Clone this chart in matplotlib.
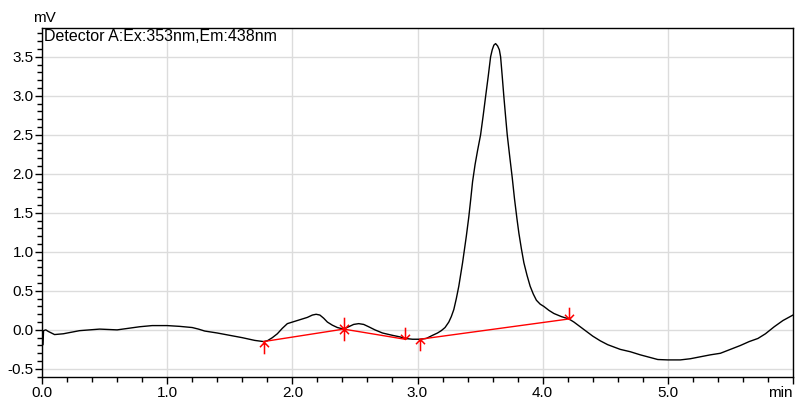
import matplotlib
matplotlib.use("Agg")
import matplotlib.pyplot as plt
from matplotlib.path import Path
from matplotlib.ticker import MultipleLocator

plt.rcParams["font.family"] = ["Liberation Sans", "DejaVu Sans"]

# chromatogram trace (min, mV)
t = [0.000, 0.008, 0.012, 0.03, 0.05, 0.10, 0.17, 0.30, 0.46, 0.60, 0.78, 0.88,
     1.00, 1.10, 1.20, 1.25, 1.30, 1.40, 1.50, 1.60, 1.70, 1.77, 1.80, 1.84,
     1.88, 1.92, 1.96, 2.00, 2.04, 2.08, 2.12, 2.16, 2.19, 2.22, 2.25, 2.28,
     2.32, 2.36, 2.41, 2.45, 2.49, 2.53, 2.57, 2.61, 2.66, 2.72, 2.80, 2.86,
     2.90, 2.96, 3.02, 3.07, 3.12, 3.16, 3.19, 3.22, 3.25, 3.27, 3.29, 3.31,
     3.33, 3.345, 3.36, 3.375, 3.39, 3.41, 3.425, 3.44, 3.46, 3.48, 3.504, 3.525,
     3.544, 3.565, 3.584, 3.597, 3.61, 3.624, 3.64, 3.654, 3.664, 3.677, 3.69, 3.703,
     3.717, 3.737, 3.757, 3.775, 3.795, 3.81, 3.83, 3.85, 3.875, 3.90, 3.925, 3.95,
     3.98, 4.01, 4.05, 4.09, 4.15, 4.21, 4.25, 4.30, 4.35, 4.40, 4.46, 4.52,
     4.62, 4.70, 4.78, 4.85, 4.92, 5.00, 5.10, 5.18, 5.26, 5.34, 5.42, 5.50,
     5.58, 5.65, 5.72, 5.78, 5.85, 5.92, 6.00]
mv = [-0.19, -0.19, -0.01, 0.00, -0.02, -0.06, -0.05, -0.01, 0.01, 0.00, 0.04, 0.055,
      0.055, 0.045, 0.03, 0.01, -0.015, -0.04, -0.07, -0.10, -0.135, -0.15, -0.14, -0.10,
      -0.05, 0.02, 0.08, 0.10, 0.12, 0.14, 0.16, 0.19, 0.20, 0.19, 0.15, 0.10,
      0.06, 0.03, 0.01, 0.04, 0.07, 0.08, 0.07, 0.04, 0.00, -0.04, -0.07, -0.09,
      -0.11, -0.12, -0.12, -0.11, -0.07, -0.04, -0.01, 0.03, 0.10, 0.17, 0.26, 0.40,
      0.56, 0.71, 0.86, 1.03, 1.20, 1.45, 1.67, 1.90, 2.12, 2.30, 2.50, 2.75,
      2.99, 3.25, 3.50, 3.59, 3.65, 3.67, 3.64, 3.59, 3.50, 3.25, 2.99, 2.75,
      2.50, 2.22, 1.95, 1.68, 1.42, 1.24, 1.04, 0.86, 0.70, 0.56, 0.46, 0.38,
      0.33, 0.30, 0.25, 0.21, 0.17, 0.14, 0.10, 0.04, -0.02, -0.08, -0.14, -0.19,
      -0.25, -0.28, -0.32, -0.35, -0.38, -0.385, -0.385, -0.37, -0.345, -0.32, -0.30, -0.25,
      -0.20, -0.15, -0.11, -0.05, 0.04, 0.12, 0.19]

# integration baselines: (start, end) points
base_start_t = [1.77, 2.41, 3.02]
base_start_mv = [-0.15, 0.01, -0.12]
base_end_t = [2.41, 2.90, 4.21]
base_end_mv = [0.01, -0.12, 0.14]

# peak start / end markers
up_t = [1.77, 2.41, 3.02]
up_mv = [-0.15, 0.01, -0.12]
down_t = [2.41, 2.90, 4.21]
down_mv = [0.01, -0.12, 0.14]

x_ticks = [0, 1, 2, 3, 4, 5, 6]
x_labels = ["0.0", "1.0", "2.0", "3.0", "4.0", "5.0", "min"]
y_ticks = [-0.5, 0.0, 0.5, 1.0, 1.5, 2.0, 2.5, 3.0, 3.5]

# arrow markers with the tip at the data point
arrow_codes = [Path.MOVETO, Path.LINETO, Path.MOVETO, Path.LINETO, Path.LINETO]
up_arrow = Path([(0, 0), (0, -1), (-0.38, -0.4), (0, 0), (0.38, -0.4)], arrow_codes)
down_arrow = Path([(0, 0), (0, 1), (-0.38, 0.4), (0, 0), (0.38, 0.4)], arrow_codes)

fig = plt.figure(figsize=(7.96, 4.0), dpi=100)
ax = fig.add_axes([0.0528, 0.0583, 0.9434, 0.8717])

ax.plot(t, mv, color="black", lw=1.0, zorder=3)
for x0, y0, x1, y1 in zip(base_start_t, base_start_mv, base_end_t, base_end_mv):
    ax.plot([x0, x1], [y0, y1], color="red", lw=1.0, zorder=4)
ax.plot(up_t, up_mv, ls="none", marker=up_arrow, ms=17, mec="red", mfc="none",
        mew=1.1, zorder=5)
ax.plot(down_t, down_mv, ls="none", marker=down_arrow, ms=17, mec="red", mfc="none",
        mew=1.1, zorder=5)

ax.set_xlim(0, 6)
ax.set_ylim(-0.6, 3.87)
ax.set_xticks(x_ticks)
ax.set_xticklabels(x_labels)
ax.get_xticklabels()[-1].set_horizontalalignment("right")
ax.set_yticks(y_ticks)
ax.set_yticklabels([f"{v:.1f}" for v in y_ticks])
ax.xaxis.set_minor_locator(MultipleLocator(0.2))
ax.yaxis.set_minor_locator(MultipleLocator(0.1))
ax.tick_params(which="major", length=5, width=1, labelsize=11, direction="out")
ax.tick_params(which="minor", length=3.5, width=1, direction="out")
ax.tick_params(axis="x", pad=1.5)
ax.tick_params(axis="y", pad=1)
ax.grid(True, which="major", color="#dcdcdc", lw=1.0, zorder=0)
ax.set_axisbelow(True)
for s in ax.spines.values():
    s.set_linewidth(1.0)

ax.text(0.002, 0.998, "Detector A:Ex:353nm,Em:438nm", transform=ax.transAxes,
        ha="left", va="top", fontsize=11.5)
ax.text(-0.012, 1.008, "mV", transform=ax.transAxes, ha="left", va="bottom",
        fontsize=11)

fig.savefig("out.png", dpi=100)
